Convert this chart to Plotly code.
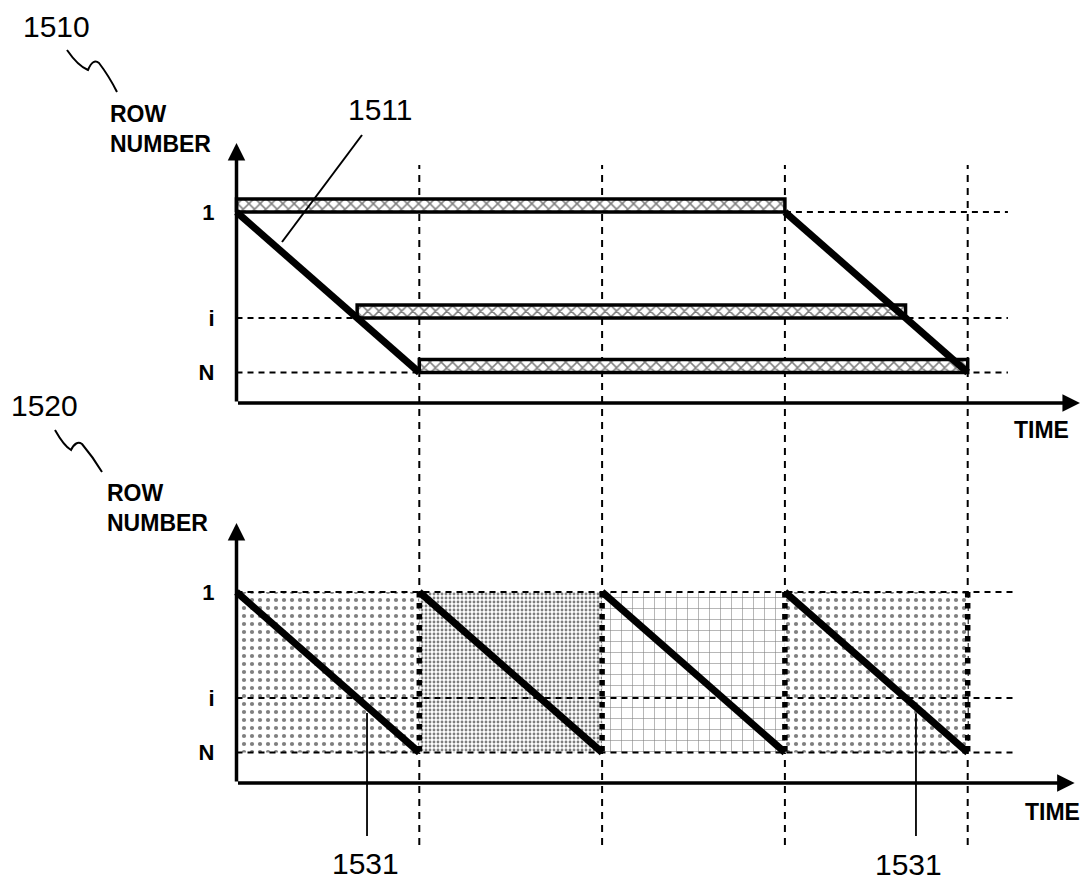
import plotly.graph_objects as go

W, H = 1085, 881

# ---------------- data ----------------
row_labels = ["1", "i", "N"]
row_values = [0.0, 0.66, 1.0]

# upper chart (1510): rolling-shutter exposure of rows 1, i, N
exposure_rows = [0.0, 0.66, 1.0]
exposure_starts = [0.0, 0.66, 1.0]
exposure_ends = [3.0, 3.66, 4.0]
top_readout_starts = [0, 3]
top_readout_ends = [1, 4]

# lower chart (1520): four frames
frame_starts = [0, 1, 2, 3]
frame_ends = [1, 2, 3, 4]
frame_boundaries = [1, 2, 3, 4]
readout_1531_times = [0.714, 3.717]

# ---------------- geometry / styles ----------------
T0_PX, T_UNIT = 236.5, 182.8          # time 0 pixel, pixels per frame
R0_TOP, R0_BOT, R_UNIT = 212.0, 592.0, 160.5
SPLIT_PX = 460.0
BAR_H = 13 / R_UNIT
AXIS_ROW = 1.19                        # row value of time axis
ARROW_TOP_ROW = -0.43
TIME_ARROW_END_TOP = 4.614
TIME_ARROW_END_BOT = 4.585
GUIDE_END_TOP = 4.22
GUIDE_END_BOT = 4.27
LEADER_BOTTOM_ROW = 1.52
FONT = "Liberation Sans"

frame_patterns = [
    dict(shape=".", size=8, solidity=0.22),
    dict(shape=".", size=4, solidity=0.4),
    dict(shape="+", size=11, solidity=0.1),
    dict(shape=".", size=8, solidity=0.22),
]


def px(x):
    return x / W


def py(y):
    return 1 - y / H


def yrange(r0, top_px, bot_px):
    return [(bot_px - r0) / R_UNIT, (top_px - r0) / R_UNIT]


fig = go.Figure()
BLACK = "black"
thin_dash = "6px,5px"
GUIDE_W = 2

# ---------- upper chart ----------
fig.add_trace(go.Scatter(x=[3, GUIDE_END_TOP], y=[row_values[0]] * 2, mode="lines",
                         line=dict(color=BLACK, width=GUIDE_W, dash=thin_dash), xaxis="x", yaxis="y"))
for r in row_values[1:]:
    fig.add_trace(go.Scatter(x=[0, GUIDE_END_TOP], y=[r, r], mode="lines",
                             line=dict(color=BLACK, width=GUIDE_W, dash=thin_dash), xaxis="x", yaxis="y"))

for r, s, e in zip(exposure_rows, exposure_starts, exposure_ends):
    fig.add_trace(go.Scatter(
        x=[s, e, e, s, s], y=[r, r, r - BAR_H, r - BAR_H, r], mode="lines",
        fill="toself", fillcolor="white",
        fillpattern=dict(shape="x", size=8, solidity=0.35, fgcolor=BLACK, bgcolor="white"),
        line=dict(color=BLACK, width=3.5), xaxis="x", yaxis="y"))

for s, e in zip(top_readout_starts, top_readout_ends):
    fig.add_trace(go.Scatter(x=[s, e], y=[row_values[0], row_values[-1]], mode="lines",
                             line=dict(color=BLACK, width=7), xaxis="x", yaxis="y"))

# ---------- lower chart ----------
for s, e, pat in zip(frame_starts, frame_ends, frame_patterns):
    r0, r1 = row_values[0], row_values[-1]
    fig.add_trace(go.Scatter(
        x=[s, e, e, s, s], y=[r0, r0, r1, r1, r0], mode="lines",
        fill="toself", fillcolor="white",
        fillpattern=dict(fgcolor=BLACK, bgcolor="white", **pat),
        line=dict(color="rgba(0,0,0,0)", width=0), xaxis="x2", yaxis="y2"))

for r in row_values:
    fig.add_trace(go.Scatter(x=[0, GUIDE_END_BOT], y=[r, r], mode="lines",
                             line=dict(color=BLACK, width=GUIDE_W, dash=thin_dash), xaxis="x2", yaxis="y2"))

for b in frame_boundaries:
    fig.add_trace(go.Scatter(x=[b, b], y=[row_values[0], row_values[-1]], mode="lines",
                             line=dict(color=BLACK, width=5.5, dash="dot"), xaxis="x2", yaxis="y2"))

for s, e in zip(frame_starts, frame_ends):
    fig.add_trace(go.Scatter(x=[s, e], y=[row_values[0], row_values[-1]], mode="lines",
                             line=dict(color=BLACK, width=7), xaxis="x2", yaxis="y2"))

for t in readout_1531_times:
    r = t - int(t)
    fig.add_trace(go.Scatter(x=[t, t], y=[r + 0.04, LEADER_BOTTOM_ROW], mode="lines",
                             line=dict(color=BLACK, width=1.8), xaxis="x2", yaxis="y2"))

# ---------- layout ----------
xr = [-T0_PX / T_UNIT, (W - T0_PX) / T_UNIT]
yaxis_common = dict(
    tickvals=row_values, ticktext=[f"<b>{t}</b>" for t in row_labels],
    tickfont=dict(family=FONT, size=22, color=BLACK),
    showgrid=False, zeroline=False, showline=False, ticks="",
    anchor="free", position=T0_PX / W, side="left", ticklabelstandoff=22,
)
fig.update_layout(
    width=W, height=H, margin=dict(l=0, r=0, t=0, b=0),
    paper_bgcolor="white", plot_bgcolor="rgba(0,0,0,0)", showlegend=False,
    xaxis=dict(domain=[0, 1], range=xr, visible=False, anchor="y"),
    xaxis2=dict(domain=[0, 1], range=xr, visible=False, anchor="y2"),
    yaxis=dict(domain=[py(SPLIT_PX), 1], range=yrange(R0_TOP, 0, SPLIT_PX), **yaxis_common),
    yaxis2=dict(domain=[0, py(SPLIT_PX)], range=yrange(R0_BOT, SPLIT_PX, H), **yaxis_common),
)

for b in frame_boundaries:
    fig.add_shape(type="line", xref="x", yref="paper", x0=b, x1=b, y0=py(845), y1=py(165),
                  line=dict(color=BLACK, width=GUIDE_W, dash="7px,6px"), layer="below")

for xa, ya, xend in [("x", "y", TIME_ARROW_END_TOP), ("x2", "y2", TIME_ARROW_END_BOT)]:
    fig.add_annotation(x=0, y=ARROW_TOP_ROW, ax=0, ay=AXIS_ROW, xref=xa, yref=ya, axref=xa, ayref=ya,
                       text="", showarrow=True, arrowhead=2, arrowsize=1.0, arrowwidth=3.5,
                       arrowcolor=BLACK, standoff=0)
    fig.add_annotation(x=xend, y=AXIS_ROW, ax=0, ay=AXIS_ROW, xref=xa, yref=ya, axref=xa, ayref=ya,
                       text="", showarrow=True, arrowhead=2, arrowsize=1.0, arrowwidth=3.5,
                       arrowcolor=BLACK, standoff=0)


def label(text, x, y, size, bold=False, xanchor="center", align="center"):
    fig.add_annotation(x=px(x), y=py(y), xref="paper", yref="paper", text=f"<b>{text}</b>" if bold else text,
                       showarrow=False, xanchor=xanchor, yanchor="middle", align=align,
                       font=dict(family=FONT, size=size, color=BLACK))


label("1510", 56, 26, 30)
label("1520", 44, 406, 30)
label("1511", 380, 109, 30)
label("ROW<br>NUMBER", 108, 129, 23, bold=True, xanchor="left", align="left")
label("ROW<br>NUMBER", 105, 508, 23, bold=True, xanchor="left", align="left")
label("TIME", 1041, 430, 23, bold=True)
label("TIME", 1052, 812, 23, bold=True)
label("1531", 365, 863, 30)
label("1531", 908, 864, 30)


def path(points):
    (x0, y0), rest = points[0], points[1:]
    d = f"M {px(x0):.5f},{py(y0):.5f}"
    for i in range(0, len(rest), 2):
        (cx, cy), (ex, ey) = rest[i], rest[i + 1]
        d += f" Q {px(cx):.5f},{py(cy):.5f} {px(ex):.5f},{py(ey):.5f}"
    return d


fig.add_shape(type="path", xref="paper", yref="paper",
              path=path([(67, 50), (78, 66), (88, 70), (93, 58), (99, 63), (109, 76), (117, 92)]),
              line=dict(color=BLACK, width=2))
fig.add_shape(type="path", xref="paper", yref="paper",
              path=path([(55, 430), (64, 446), (71, 450), (76, 440), (82, 444), (93, 457), (102, 472)]),
              line=dict(color=BLACK, width=2))
fig.add_shape(type="line", xref="paper", yref="paper", x0=px(362), y0=py(135), x1=px(282), y1=py(242),
              line=dict(color=BLACK, width=2))

fig.write_html("out.html", config={"displayModeBar": False},
               post_script="document.body.style.margin='0px';")
